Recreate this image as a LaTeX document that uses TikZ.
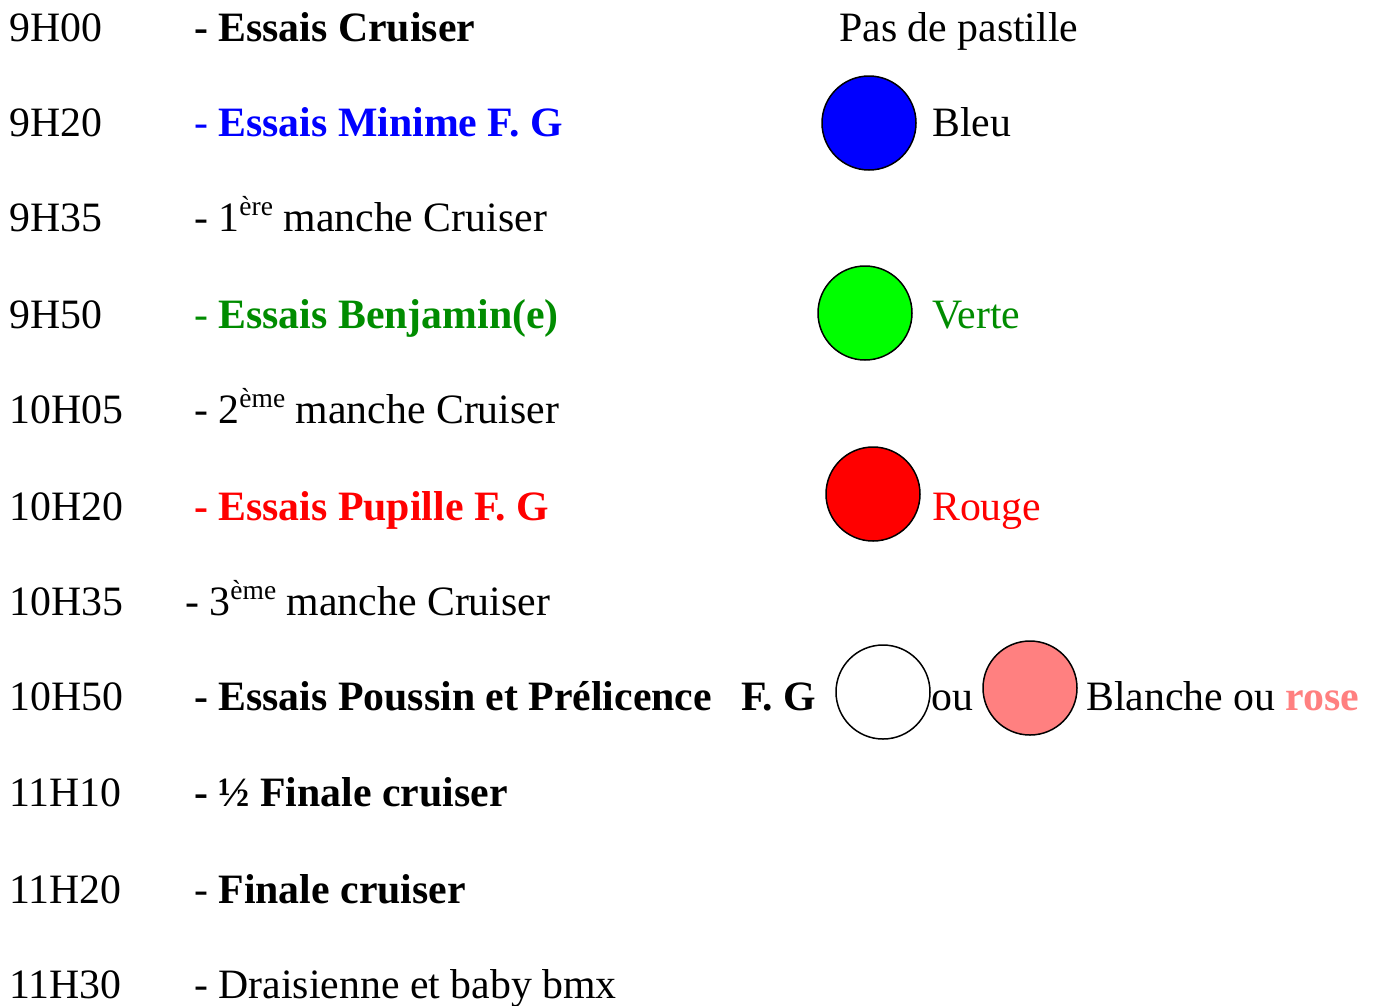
\documentclass[tikz,border=0pt]{standalone}
\usepackage{fontspec}
\setmainfont{Liberation Serif}

\definecolor{bleu}{RGB}{0,0,255}
\definecolor{vert}{RGB}{0,140,0}
\definecolor{vertclair}{RGB}{0,255,0}
\definecolor{rouge}{RGB}{255,0,0}
\definecolor{rose}{RGB}{255,128,128}
\newcommand{\expo}[1]{\raisebox{0.37em}{\fontsize{27.5}{27.5}\selectfont #1}}

\tikzset{
    txt/.style={anchor=base west, inner sep=0pt, font=\fontsize{41.8}{41.8}\selectfont},
    pastille/.style={circle, draw, line width=1.5pt, minimum size=94pt, inner sep=0pt},
}

\begin{document}
\begin{tikzpicture}[x=1pt, y=-1pt]
    \useasboundingbox (0,0) rectangle (1373,1005);

    % horaires
    \node[txt] (h1)  at (9,41)  {9H00};
    \node[txt] (h2)  at (9,136) {9H20};
    \node[txt] (h3)  at (9,231) {9H35};
    \node[txt] (h4)  at (9,328) {9H50};
    \node[txt] (h5)  at (9,423) {10H05};
    \node[txt] (h6)  at (9,520) {10H20};
    \node[txt] (h7)  at (9,615) {10H35};
    \node[txt] (h8)  at (9,710) {10H50};
    \node[txt] (h9)  at (9,806) {11H10};
    \node[txt] (h10) at (9,903) {11H20};
    \node[txt] (h11) at (9,998) {11H30};

    % epreuves
    \node[txt] (e1)  at (194,41)  {\textbf{- Essais Cruiser}};
    \node[txt, text=bleu] (e2) at (194,136) {- \textbf{Essais Minime F. G}};
    \node[txt] (e3)  at (194,231) {- 1\expo{ère} manche Cruiser};
    \node[txt, text=vert] (e4) at (194,328) {- \textbf{Essais Benjamin(e)}};
    \node[txt] (e5)  at (194,423) {- 2\expo{ème} manche Cruiser};
    \node[txt, text=rouge] (e6) at (194,520) {\textbf{- Essais Pupille F. G}};
    \node[txt] (e7)  at (185,615) {- 3\expo{ème} manche Cruiser};
    \node[txt] (e8)  at (194,710) {\textbf{- Essais Poussin et Prélicence}};
    \node[txt] (fg8) at (741,710) {\textbf{F. G}};
    \node[txt] (e9)  at (194,806) {\textbf{- ½ Finale cruiser}};
    \node[txt] (e10) at (194,903) {- \textbf{Finale cruiser}};
    \node[txt] (e11) at (194,998) {- Draisienne et baby bmx};

    % pastilles
    \node[txt] (p1) at (839,41) {Pas de pastille};
    \node[pastille, fill=bleu] (c2) at (869,123) {};
    \node[txt] (p2) at (932,136) {Bleu};
    \node[pastille, fill=vertclair] (c4) at (865,313) {};
    \node[txt, text=vert] (p4) at (932,328) {Verte};
    \node[pastille, fill=rouge] (c6) at (873,494) {};
    \node[txt, text=rouge] (p6) at (932,520) {Rouge};
    \node[pastille, fill=white] (c8) at (883,692) {};
    \node[txt] (ou8) at (931,710) {ou};
    \node[pastille, fill=rose] (r8) at (1030,688) {};
    \node[txt] (p8) at (1086,710) {Blanche ou \textcolor{rose}{\textbf{rose}}};
\end{tikzpicture}
\end{document}
